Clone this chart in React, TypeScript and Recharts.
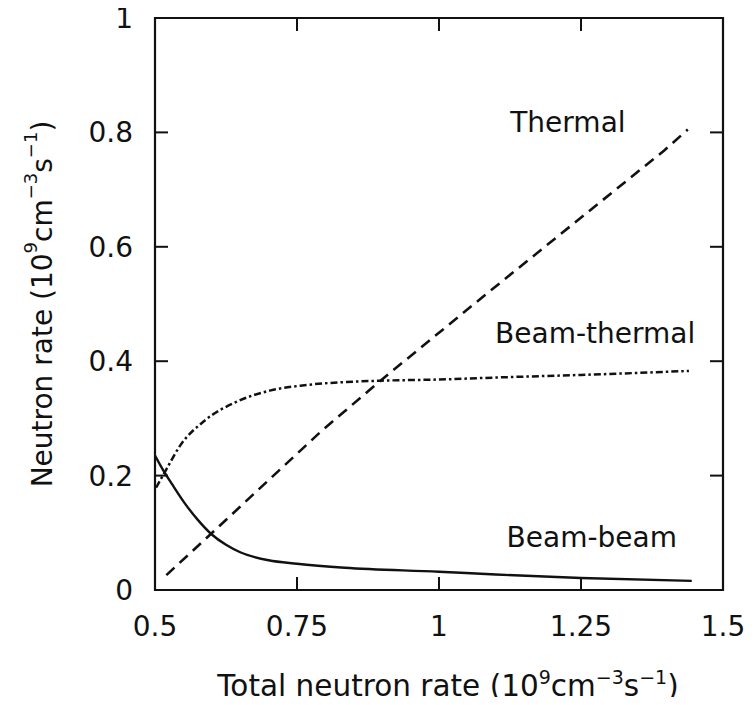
import React from 'react';
import { LineChart, Line, XAxis, YAxis, ReferenceDot, ReferenceArea, Label } from 'recharts';

// Axis ticks
const xTicks = [0.5, 0.75, 1, 1.25, 1.5];
const yTicks = [0, 0.2, 0.4, 0.6, 0.8, 1];

// Thermal (dashed)
const thermalX = [0.52, 0.594, 0.792, 0.897, 1.079, 1.396, 1.438];
const thermalY = [0.026, 0.094, 0.277, 0.366, 0.514, 0.768, 0.805];

// Beam-thermal (dash-dot)
const beamThermalX = [0.502, 0.52, 0.544, 0.586, 0.646, 0.704, 0.763, 0.824, 0.9, 1.0, 1.117, 1.25, 1.44];
const beamThermalY = [0.179, 0.211, 0.252, 0.295, 0.33, 0.349, 0.358, 0.363, 0.366, 0.368, 0.372, 0.376, 0.383];

// Beam-beam (solid)
const beamBeamX = [0.5, 0.514, 0.53, 0.55, 0.575, 0.6, 0.625, 0.65, 0.7, 0.75, 0.834, 1.0, 1.1, 1.25, 1.445];
const beamBeamY = [0.235, 0.21, 0.185, 0.155, 0.123, 0.097, 0.079, 0.066, 0.052, 0.046, 0.039, 0.032, 0.027, 0.021, 0.016];

// Curve labels
const curveLabels = ['Thermal', 'Beam-thermal', 'Beam-beam'];
const curveLabelX = [1.227, 1.275, 1.269];
const curveLabelY = [0.818, 0.449, 0.093];

const zip = (xs: number[], ys: number[]) => xs.map((x, i) => ({ x, y: ys[i] }));
const thermalData = zip(thermalX, thermalY);
const beamThermalData = zip(beamThermalX, beamThermalY);
const beamBeamData = zip(beamBeamX, beamBeamY);

const FONT = 'DejaVu Sans';
const INK = '#111';
const TICK_LEN = 13;

const W = 756;
const H = 705;
const MARGIN = { top: 18, right: 33, left: 95, bottom: 55 };
const Y_AXIS_W = 60;
const X_AXIS_H = 60;
const PLOT_W = W - MARGIN.left - MARGIN.right - Y_AXIS_W;
const PLOT_H = H - MARGIN.top - MARGIN.bottom - X_AXIS_H;

const BottomTick = (props: any) => {
  const { x, y, payload } = props;
  const v = payload.value;
  const inner = v > 0.5 && v < 1.5;
  return (
    <g>
      {inner && <line x1={x} y1={y} x2={x} y2={y - TICK_LEN} stroke={INK} strokeWidth={2} />}
      {inner && (
        <line x1={x} y1={y - PLOT_H} x2={x} y2={y - PLOT_H + TICK_LEN} stroke={INK} strokeWidth={2} />
      )}
      <text x={x} y={y + 46} textAnchor="middle" fontSize={28} fontFamily={FONT} fill={INK}>
        {String(v)}
      </text>
    </g>
  );
};

const LeftTick = (props: any) => {
  const { x, y, payload } = props;
  const v = payload.value;
  const inner = v > 0 && v < 1;
  return (
    <g>
      {inner && <line x1={x} y1={y} x2={x + TICK_LEN} y2={y} stroke={INK} strokeWidth={2} />}
      {inner && (
        <line x1={x + PLOT_W} y1={y} x2={x + PLOT_W - TICK_LEN} y2={y} stroke={INK} strokeWidth={2} />
      )}
      <text x={x - 22} y={y + 10} textAnchor="end" fontSize={28} fontFamily={FONT} fill={INK}>
        {String(v)}
      </text>
    </g>
  );
};

const UnitSpans = ({ size }: { size: number }) => {
  const s = Math.round(size * 0.66);
  const up = Math.round(size * 0.42);
  return (
    <>
      <tspan>(10</tspan>
      <tspan dy={-up} fontSize={s}>9</tspan>
      <tspan dy={up}>cm</tspan>
      <tspan dy={-up} fontSize={s}>−3</tspan>
      <tspan dy={up}>s</tspan>
      <tspan dy={-up} fontSize={s}>−1</tspan>
      <tspan dy={up}>)</tspan>
    </>
  );
};

const XTitle = (props: any) => {
  const vb = props.viewBox;
  const cx = vb.x + vb.width / 2 + 9;
  return (
    <text x={cx} y={vb.y + 106} textAnchor="middle" fontSize={29.5} fontFamily={FONT} fill={INK}>
      <tspan>Total neutron rate </tspan>
      <UnitSpans size={29.5} />
    </text>
  );
};

const YTitle = (props: any) => {
  const vb = props.viewBox;
  const cx = vb.x - 53;
  const cy = vb.y + vb.height / 2;
  return (
    <text
      x={cx}
      y={cy}
      transform={`rotate(-90, ${cx}, ${cy})`}
      textAnchor="middle"
      dominantBaseline="central"
      fontSize={28}
      fontFamily={FONT}
      fill={INK}
    >
      <tspan>Neutron rate </tspan>
      <UnitSpans size={28} />
    </text>
  );
};

export default function App() {
  return (
    <div style={{ width: W, height: H, margin: -8, overflow: 'hidden', background: '#fff' }}>
      <LineChart width={W} height={H} margin={MARGIN}>
        <XAxis
          type="number"
          dataKey="x"
          domain={[0.5, 1.5]}
          ticks={xTicks}
          allowDataOverflow
          height={X_AXIS_H}
          tickSize={0}
          tickMargin={0}
          tickLine={false}
          axisLine={false}
          tick={<BottomTick />}
          interval={0}
        >
          <Label content={<XTitle />} />
        </XAxis>
        <YAxis
          type="number"
          domain={[0, 1]}
          ticks={yTicks}
          allowDataOverflow
          width={Y_AXIS_W}
          tickSize={0}
          tickMargin={0}
          tickLine={false}
          axisLine={false}
          tick={<LeftTick />}
          interval={0}
        >
          <Label content={<YTitle />} />
        </YAxis>
        <ReferenceArea
          x1={0.5}
          x2={1.5}
          y1={0}
          y2={1}
          fill="none"
          fillOpacity={0}
          stroke={INK}
          strokeWidth={2.2}
          strokeOpacity={1}
          ifOverflow="visible"
        />
        <Line
          data={thermalData}
          dataKey="y"
          type="linear"
          stroke={INK}
          strokeWidth={2.6}
          strokeDasharray="11 7"
          dot={false}
          activeDot={false}
          isAnimationActive={false}
        />
        <Line
          data={beamThermalData}
          dataKey="y"
          type="monotone"
          stroke={INK}
          strokeWidth={2.5}
          strokeDasharray="7 3 2.5 3"
          dot={false}
          activeDot={false}
          isAnimationActive={false}
        />
        <Line
          data={beamBeamData}
          dataKey="y"
          type="monotone"
          stroke={INK}
          strokeWidth={2.4}
          dot={false}
          activeDot={false}
          isAnimationActive={false}
        />
        {curveLabels.map((t, i) => (
          <ReferenceDot
            key={t}
            x={curveLabelX[i]}
            y={curveLabelY[i]}
            r={0}
            fill="none"
            stroke="none"
            ifOverflow="visible"
            label={{ value: t, position: 'center', fontSize: 28, fontFamily: FONT, fill: INK }}
          />
        ))}
      </LineChart>
    </div>
  );
}
